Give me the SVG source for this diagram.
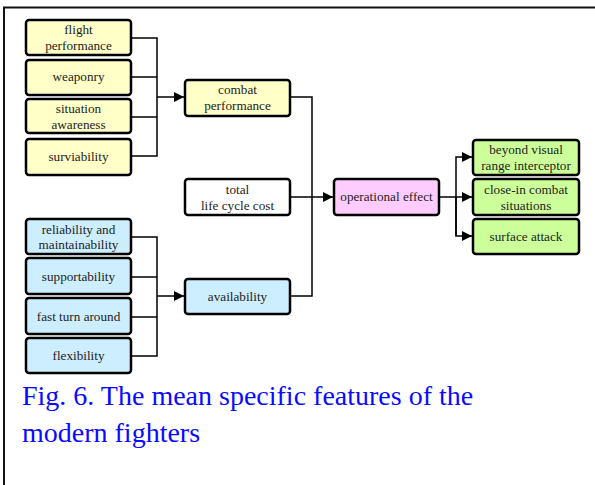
<svg xmlns="http://www.w3.org/2000/svg" width="595" height="485" viewBox="0 0 595 485">
<style>
.b{stroke:#000;stroke-width:2.5}
.y{fill:#ffffc8}.c{fill:#cdeeff}.p{fill:#ffccff}.g{fill:#ccff99}.w{fill:#fff}
text{font-family:"Liberation Serif","Times New Roman",serif;font-size:13.2px;fill:#222;text-anchor:middle}
.l{fill:none;stroke:#000;stroke-width:1.5}
.cap{font-size:28px;fill:#0a0aff;text-anchor:start}
</style>
<defs>
<marker id="a" viewBox="0 0 10 10" refX="10" refY="5" markerWidth="10" markerHeight="10" markerUnits="userSpaceOnUse" orient="auto"><path d="M0,0L10,5L0,10z" fill="#000"/></marker>
</defs>
<path d="M4,485V7.5H595" fill="none" stroke="#111" stroke-width="2"/>
<g id="connectors">
<path class="l" d="M131,38H157V156H131M131,77H157M131,117H157"/>
<path class="l" d="M157,97H184" stroke-width="2" marker-end="url(#a)"/>
<path class="l" d="M131,237H157V356H131M131,277H157M131,317H157"/>
<path class="l" d="M157,296H184" stroke-width="2" marker-end="url(#a)"/>
<path class="l" d="M290,97H312V296H290"/>
<path class="l" d="M290,197H333" stroke-width="2" marker-end="url(#a)"/>
<path class="l" d="M439,197H472" stroke-width="2" marker-end="url(#a)"/>
<path class="l" d="M456,236V157H472" stroke-width="2" marker-end="url(#a)"/>
<path class="l" d="M456,197V236H472" stroke-width="2" marker-end="url(#a)"/>
</g>
<g id="flight"><rect class="b y" x="26" y="20" width="105" height="35" rx="3"/><text x="78.5" y="34">flight</text><text x="78.5" y="50">performance</text></g>
<g id="weaponry"><rect class="b y" x="26" y="60" width="105" height="35" rx="3"/><text x="78.5" y="81">weaponry</text></g>
<g id="situation"><rect class="b y" x="26" y="99" width="105" height="34" rx="3"/><text x="78.5" y="113">situation</text><text x="78.5" y="129">awareness</text></g>
<g id="surviability"><rect class="b y" x="26" y="139" width="105" height="36" rx="3"/><text x="78.5" y="161">surviability</text></g>
<g id="combat"><rect class="b y" x="185" y="80" width="105" height="36" rx="3"/><text x="237.5" y="94">combat</text><text x="237.5" y="110">performance</text></g>
<g id="lcc"><rect class="b w" x="185" y="179" width="105" height="36" rx="3"/><text x="237.5" y="194">total</text><text x="237.5" y="210">life cycle cost</text></g>
<g id="reliability"><rect class="b c" x="26" y="219" width="105" height="35" rx="3"/><text x="78.5" y="234">reliability and</text><text x="78.5" y="249">maintainability</text></g>
<g id="supportability"><rect class="b c" x="26" y="258" width="105" height="36" rx="3"/><text x="78.5" y="281">supportability</text></g>
<g id="fast"><rect class="b c" x="26" y="298" width="105" height="36" rx="3"/><text x="78.5" y="321">fast turn around</text></g>
<g id="flexibility"><rect class="b c" x="26" y="338" width="105" height="35" rx="3"/><text x="78.5" y="360">flexibility</text></g>
<g id="availability"><rect class="b c" x="185" y="279" width="105" height="35" rx="3"/><text x="237.5" y="301">availability</text></g>
<g id="operational"><rect class="b p" x="334" y="179" width="105" height="36" rx="3"/><text x="386.5" y="201">operational effect</text></g>
<g id="bvr"><rect class="b g" x="473" y="140" width="106" height="35" rx="3"/><text x="526" y="154">beyond visual</text><text x="526" y="170">range interceptor</text></g>
<g id="closein"><rect class="b g" x="473" y="179" width="106" height="36" rx="3"/><text x="526" y="194">close-in combat</text><text x="526" y="210">situations</text></g>
<g id="surface"><rect class="b g" x="473" y="219" width="106" height="35" rx="3"/><text x="526" y="241">surface attack</text></g>
<text class="cap" x="22" y="405">Fig. 6. The mean specific features of the</text>
<text class="cap" x="22" y="442">modern fighters</text>
</svg>
